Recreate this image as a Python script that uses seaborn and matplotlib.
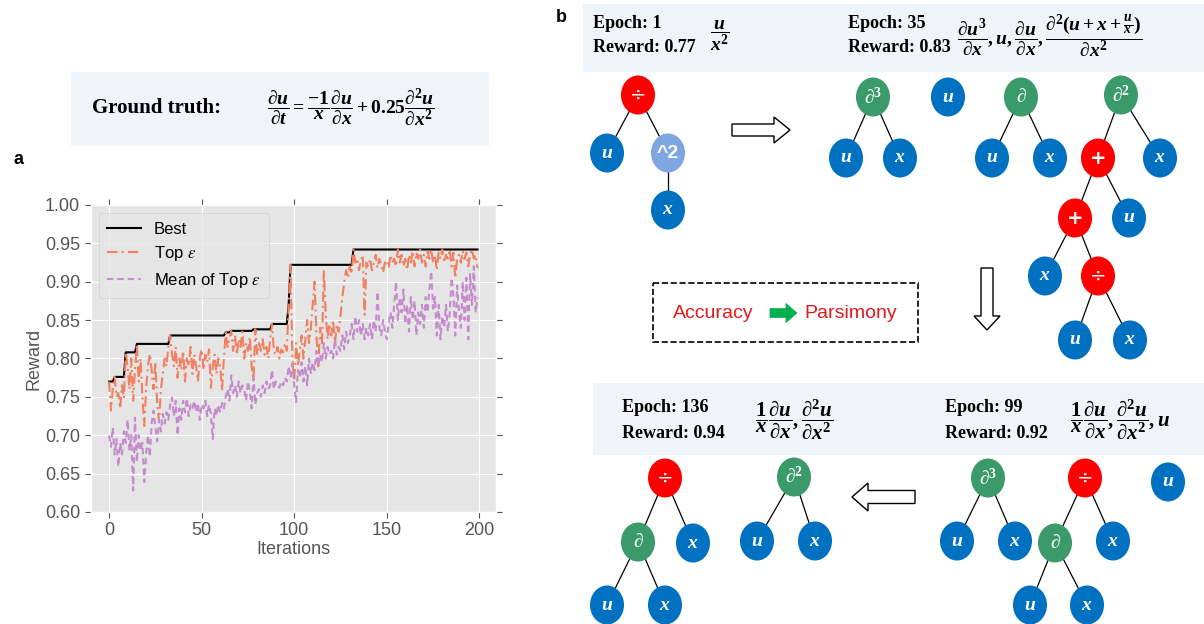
import numpy as np
import pandas as pd
import matplotlib
matplotlib.use('Agg')
import matplotlib.pyplot as plt
import seaborn as sns
from matplotlib.patches import Ellipse, Rectangle, FancyArrow
from matplotlib.font_manager import FontProperties

# reward curves (200 iterations)
iterations = np.arange(200)

best = [
    0.770, 0.770, 0.770, 0.776, 0.776, 0.776, 0.776, 0.776, 0.776, 0.808,
    0.808, 0.808, 0.808, 0.808, 0.808, 0.819, 0.819, 0.819, 0.819, 0.819,
    0.819, 0.819, 0.819, 0.819, 0.819, 0.819, 0.819, 0.819, 0.819, 0.819,
    0.819, 0.819, 0.819, 0.830, 0.830, 0.830, 0.830, 0.830, 0.830, 0.830,
    0.830, 0.830, 0.830, 0.830, 0.830, 0.830, 0.830, 0.830, 0.830, 0.830,
    0.830, 0.830, 0.830, 0.830, 0.830, 0.830, 0.830, 0.830, 0.830, 0.830,
    0.830, 0.830, 0.830, 0.834, 0.834, 0.834, 0.836, 0.836, 0.836, 0.836,
    0.836, 0.836, 0.836, 0.836, 0.836, 0.836, 0.836, 0.836, 0.838, 0.838,
    0.838, 0.838, 0.838, 0.838, 0.838, 0.838, 0.838, 0.838, 0.845, 0.845,
    0.845, 0.845, 0.845, 0.845, 0.845, 0.845, 0.845, 0.870, 0.922, 0.922,
    0.922, 0.922, 0.922, 0.922, 0.922, 0.922, 0.922, 0.922, 0.922, 0.922,
    0.922, 0.922, 0.922, 0.922, 0.922, 0.922, 0.922, 0.922, 0.922, 0.922,
    0.922, 0.922, 0.922, 0.922, 0.922, 0.922, 0.922, 0.922, 0.922, 0.922,
    0.922, 0.922, 0.942, 0.942, 0.942, 0.942, 0.942, 0.942, 0.942, 0.942,
    0.942, 0.942, 0.942, 0.942, 0.942, 0.942, 0.942, 0.942, 0.942, 0.942,
    0.942, 0.942, 0.942, 0.942, 0.942, 0.942, 0.942, 0.942, 0.942, 0.942,
    0.942, 0.942, 0.942, 0.942, 0.942, 0.942, 0.942, 0.942, 0.942, 0.942,
    0.942, 0.942, 0.942, 0.942, 0.942, 0.942, 0.942, 0.942, 0.942, 0.942,
    0.942, 0.942, 0.942, 0.942, 0.942, 0.942, 0.942, 0.942, 0.942, 0.942,
    0.942, 0.942, 0.942, 0.942, 0.942, 0.942, 0.942, 0.942, 0.942, 0.942,
]

top_eps = [
    0.770, 0.732, 0.760, 0.776, 0.750, 0.755, 0.735, 0.765, 0.748, 0.808,
    0.790, 0.760, 0.800, 0.745, 0.785, 0.819, 0.770, 0.800, 0.750, 0.712,
    0.760, 0.790, 0.806, 0.785, 0.760, 0.795, 0.740, 0.718, 0.760, 0.780,
    0.800, 0.790, 0.815, 0.830, 0.805, 0.790, 0.815, 0.775, 0.800, 0.785,
    0.810, 0.770, 0.800, 0.790, 0.815, 0.780, 0.805, 0.790, 0.770, 0.800,
    0.812, 0.785, 0.805, 0.795, 0.812, 0.762, 0.790, 0.805, 0.780, 0.800,
    0.790, 0.758, 0.800, 0.834, 0.815, 0.825, 0.836, 0.810, 0.830, 0.805,
    0.825, 0.815, 0.835, 0.800, 0.820, 0.810, 0.828, 0.790, 0.773, 0.838,
    0.805, 0.820, 0.810, 0.825, 0.805, 0.815, 0.800, 0.825, 0.845, 0.810,
    0.805, 0.815, 0.800, 0.812, 0.808, 0.820, 0.810, 0.870, 0.922, 0.800,
    0.771, 0.820, 0.790, 0.810, 0.830, 0.800, 0.825, 0.850, 0.820, 0.840,
    0.870, 0.900, 0.830, 0.790, 0.840, 0.820, 0.915, 0.860, 0.825, 0.845,
    0.830, 0.850, 0.820, 0.845, 0.835, 0.855, 0.880, 0.900, 0.915, 0.905,
    0.920, 0.910, 0.942, 0.925, 0.930, 0.915, 0.928, 0.935, 0.857, 0.925,
    0.920, 0.930, 0.915, 0.925, 0.935, 0.918, 0.930, 0.922, 0.912, 0.925,
    0.928, 0.918, 0.935, 0.925, 0.930, 0.920, 0.942, 0.925, 0.935, 0.920,
    0.930, 0.915, 0.935, 0.925, 0.940, 0.920, 0.938, 0.930, 0.942, 0.925,
    0.935, 0.920, 0.940, 0.930, 0.942, 0.925, 0.935, 0.915, 0.938, 0.930,
    0.942, 0.925, 0.935, 0.930, 0.942, 0.920, 0.938, 0.905, 0.930, 0.935,
    0.925, 0.940, 0.930, 0.938, 0.920, 0.935, 0.942, 0.930, 0.935, 0.918,
]

mean_top_eps = [
    0.700, 0.685, 0.710, 0.675, 0.695, 0.659, 0.690, 0.675, 0.705, 0.690,
    0.720, 0.680, 0.700, 0.628, 0.723, 0.665, 0.700, 0.680, 0.690, 0.639,
    0.675, 0.700, 0.672, 0.715, 0.732, 0.710, 0.692, 0.720, 0.705, 0.728,
    0.715, 0.730, 0.720, 0.740, 0.749, 0.725, 0.745, 0.700, 0.735, 0.720,
    0.745, 0.730, 0.748, 0.725, 0.740, 0.735, 0.745, 0.730, 0.742, 0.720,
    0.740, 0.735, 0.745, 0.725, 0.740, 0.728, 0.695, 0.735, 0.725, 0.740,
    0.730, 0.742, 0.735, 0.750, 0.760, 0.745, 0.778, 0.755, 0.765, 0.750,
    0.770, 0.755, 0.765, 0.760, 0.745, 0.770, 0.758, 0.735, 0.775, 0.740,
    0.755, 0.760, 0.750, 0.765, 0.755, 0.770, 0.760, 0.765, 0.785, 0.760,
    0.770, 0.765, 0.762, 0.770, 0.765, 0.775, 0.770, 0.790, 0.775, 0.793,
    0.765, 0.743, 0.785, 0.775, 0.795, 0.770, 0.790, 0.765, 0.800, 0.780,
    0.795, 0.785, 0.810, 0.790, 0.805, 0.795, 0.820, 0.800, 0.815, 0.805,
    0.810, 0.800, 0.825, 0.805, 0.815, 0.810, 0.830, 0.812, 0.835, 0.820,
    0.830, 0.845, 0.825, 0.855, 0.835, 0.850, 0.830, 0.845, 0.825, 0.840,
    0.830, 0.845, 0.825, 0.850, 0.835, 0.887, 0.840, 0.830, 0.850, 0.835,
    0.825, 0.845, 0.860, 0.840, 0.870, 0.900, 0.850, 0.880, 0.860, 0.890,
    0.845, 0.870, 0.835, 0.880, 0.850, 0.875, 0.830, 0.860, 0.845, 0.870,
    0.840, 0.880, 0.860, 0.890, 0.914, 0.865, 0.880, 0.830, 0.870, 0.825,
    0.855, 0.840, 0.870, 0.835, 0.860, 0.905, 0.880, 0.830, 0.895, 0.860,
    0.840, 0.900, 0.850, 0.905, 0.825, 0.910, 0.870, 0.920, 0.860, 0.880,
]

series_names = ['Best', r'Top $\varepsilon$', r'Mean of Top $\varepsilon$']
series_colors = ['black', '#F08060', '#C48CCC']
series_dashes = ['', (5, 2, 1, 2), (3, 2)]

# style
plt.style.use('ggplot')
plt.rcParams['font.family'] = ['Liberation Sans', 'DejaVu Sans']
plt.rcParams['mathtext.fontset'] = 'custom'
plt.rcParams['mathtext.it'] = 'Liberation Serif:italic:bold'
plt.rcParams['mathtext.rm'] = 'Liberation Serif:bold'
plt.rcParams['mathtext.bf'] = 'Liberation Serif:bold'
plt.rcParams['mathtext.fallback'] = 'stix'

fig = plt.figure(figsize=(12.04, 6.24), dpi=100)
fig.patch.set_facecolor('white')

# ---- panel a : reward curves ----
ax = fig.add_axes([0.0753, 0.1795, 0.3366, 0.492])

df = pd.DataFrame({
    'Iterations': np.tile(iterations, 3),
    'Reward': best + top_eps + mean_top_eps,
    'series': np.repeat(series_names, len(iterations)),
})
sns.lineplot(data=df, x='Iterations', y='Reward', hue='series', style='series',
             hue_order=series_names, style_order=series_names,
             palette=dict(zip(series_names, series_colors)),
             dashes=dict(zip(series_names, series_dashes)),
             lw=1.5, errorbar=None, ax=ax)

ax.set_ylim(0.6, 1.0)
ax.set_yticks(np.arange(0.60, 1.001, 0.05))
ax.set_xticks([0, 50, 100, 150, 200])
ax.tick_params(axis='both', labelsize=13, colors='#555555', length=4,
               top=True, right=True, labeltop=False, labelright=False)
ax.set_xlabel('Iterations', fontsize=13, color='#555555', labelpad=1)
ax.set_ylabel('Reward', fontsize=13, color='#555555', labelpad=2)

handles, labels = ax.get_legend_handles_labels()
ax.legend(handles, labels, loc='upper left',
          prop=FontProperties(family='Liberation Sans', size=12, math_fontfamily='stix'),
          handlelength=2.0, handletextpad=0.8, labelspacing=0.45, borderpad=0.5)

# ---- overlay in pixel coordinates for the text boxes and trees ----
ov = fig.add_axes([0, 0, 1, 1])
ov.set_xlim(0, 1204)
ov.set_ylim(624, 0)
ov.axis('off')

ov.text(14, 160, 'a', fontsize=13, fontweight='bold', va='center')
ov.text(556, 18, 'b', fontsize=13, fontweight='bold', va='center')

box_color = '#EEF4F9'
ov.add_patch(Rectangle((71, 72), 418, 74, fc=box_color, ec='none'))
ov.text(92, 108, 'Ground truth:', family='Liberation Serif', fontweight='bold',
        fontsize=15, va='center')
ov.text(267, 108, r'$\dfrac{\partial u}{\partial t} = \dfrac{-1}{x}\dfrac{\partial u}{\partial x}'
        r' + 0.25\dfrac{\partial^2 u}{\partial x^2}$', fontsize=14, va='center')

# header boxes
ov.add_patch(Rectangle((583, 4), 621, 68, fc=box_color, ec='none'))
ov.add_patch(Rectangle((593, 383), 611, 72, fc=box_color, ec='none'))

serif_bold = dict(family='Liberation Serif', fontweight='bold', fontsize=13, va='center')
ov.text(593, 24, 'Epoch: 1', **serif_bold)
ov.text(593, 48, 'Reward: 0.77', **serif_bold)
ov.text(710, 36, r'$\dfrac{u}{x^2}$', fontsize=14, va='center')
ov.text(848, 24, 'Epoch: 35', **serif_bold)
ov.text(848, 48, 'Reward: 0.83', **serif_bold)
ov.text(957, 36, r'$\dfrac{\partial u^3}{\partial x},u,\dfrac{\partial u}{\partial x},'
        r'\dfrac{\partial^2(u+x+\frac{u}{x})}{\partial x^2}$', fontsize=14, va='center')
ov.text(622, 408, 'Epoch: 136', **serif_bold)
ov.text(622, 434, 'Reward: 0.94', **serif_bold)
ov.text(755, 420, r'$\dfrac{1}{x}\dfrac{\partial u}{\partial x},\dfrac{\partial^2 u}{\partial x^2}$',
        fontsize=15, va='center')
ov.text(945, 408, 'Epoch: 99', **serif_bold)
ov.text(945, 434, 'Reward: 0.92', **serif_bold)
ov.text(1070, 420, r'$\dfrac{1}{x}\dfrac{\partial u}{\partial x},\dfrac{\partial^2 u}{\partial x^2},u$',
        fontsize=15, va='center')

# expression trees
blue, red, green, light = '#0070C0', '#FF0000', '#3A9A6A', '#7EA6E0'
nodes = [
    ('div', red, 638, 95), ('u', blue, 607, 153), ('^2', light, 668, 153), ('x', blue, 668, 210),
    ('d3', green, 873, 97), ('u', blue, 846, 158), ('x', blue, 900, 158),
    ('u', blue, 948, 97),
    ('d1', green, 1021, 97), ('u', blue, 992, 158), ('x', blue, 1050, 158),
    ('d2', green, 1121, 95), ('+', red, 1098, 158), ('x', blue, 1160, 158),
    ('+', red, 1075, 218), ('u', blue, 1129, 218),
    ('x', blue, 1045, 276), ('div', red, 1098, 276),
    ('u', blue, 1075, 340), ('x', blue, 1130, 340),
    ('div', red, 665, 478), ('d1', green, 638, 542), ('x', blue, 693, 543),
    ('u', blue, 607, 605), ('x', blue, 665, 605),
    ('d2', green, 794, 477), ('u', blue, 757, 541), ('x', blue, 815, 541),
    ('d3', green, 988, 478), ('u', blue, 957, 541), ('x', blue, 1015, 541),
    ('div', red, 1085, 478), ('d1', green, 1055, 543), ('x', blue, 1113, 541),
    ('u', blue, 1030, 605), ('x', blue, 1087, 605),
    ('u', blue, 1168, 482),
]
edges = [(0, 1), (0, 2), (2, 3), (4, 5), (4, 6), (8, 9), (8, 10), (11, 12), (11, 13),
         (12, 14), (12, 15), (14, 16), (14, 17), (17, 18), (17, 19),
         (20, 21), (20, 22), (21, 23), (21, 24), (25, 26), (25, 27),
         (28, 29), (28, 30), (31, 32), (31, 33), (32, 34), (32, 35)]
node_text = {
    'u': (r'$u$', {}), 'x': (r'$x$', {}),
    'div': ('÷', dict(family='DejaVu Sans')),
    '+': ('+', dict(family='DejaVu Sans', fontweight='bold')),
    '^2': ('^2', dict(family='Liberation Sans', fontweight='bold')),
    'd1': (r'$\partial$', {}), 'd2': (r'$\partial^2$', {}), 'd3': (r'$\partial^3$', {}),
}

for a, b in edges:
    ov.plot([nodes[a][2], nodes[b][2]], [nodes[a][3], nodes[b][3]],
            color='black', lw=0.9, zorder=1)
for kind, col, x, y in nodes:
    ov.add_patch(Ellipse((x, y), 34, 39, fc=col, ec='none', zorder=2))
    label, kw = node_text[kind]
    ov.text(x, y, label, color='white', fontsize=14, ha='center', va='center',
            zorder=3, **kw)

# arrows
hollow = dict(fc='white', ec='black', lw=1, length_includes_head=True)
ov.add_patch(FancyArrow(732, 130, 58, 0, width=12, head_width=26, head_length=16, **hollow))
ov.add_patch(FancyArrow(987, 268, 0, 62, width=12, head_width=26, head_length=14, **hollow))
ov.add_patch(FancyArrow(915, 497, -63, 0, width=13, head_width=28, head_length=16, **hollow))

# accuracy -> parsimony box
ov.add_patch(Rectangle((653, 283), 265, 59, fill=False, ec='black', ls='--', lw=1.2))
ov.text(673, 313, 'Accuracy', color='#E31A1C', fontsize=14, va='center')
ov.add_patch(FancyArrow(770, 313, 27, 0, width=9, head_width=19, head_length=11,
                        color='#00B050', length_includes_head=True))
ov.text(804, 313, 'Parsimony', color='#E31A1C', fontsize=14, va='center')

plt.savefig('out.png', dpi=100, facecolor='white')
